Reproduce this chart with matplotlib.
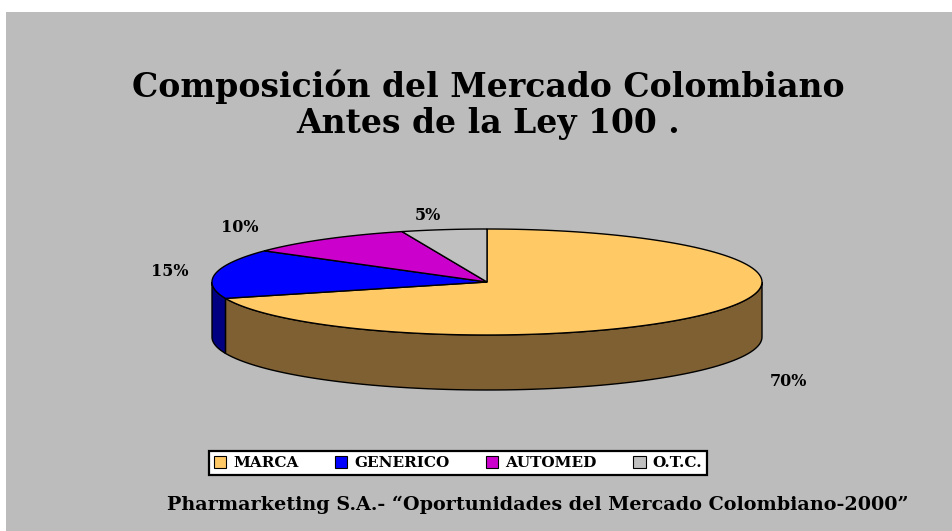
import numpy as np
import matplotlib
matplotlib.use("Agg")
import matplotlib.pyplot as plt
from matplotlib.patches import Polygon, Rectangle, Patch

# ---- data ----
categories = ["MARCA", "GENERICO", "AUTOMED", "O.T.C."]
shares = [70, 15, 10, 5]
label_texts = ["70%", "15%", "10%", "5%"]
top_colors = ["#FFC966", "#0000FF", "#CC00CC", "#C0C0C0"]
side_colors = ["#7F6032", "#000080", "#660066", "#808080"]

title = "Composición del Mercado Colombiano\nAntes de la Ley 100 ."
source = "Pharmarketing S.A.- \u201cOportunidades del Mercado Colombiano-2000\u201d"

W, H = 952, 531
fig = plt.figure(figsize=(W / 100, H / 100), dpi=100)
fig.patch.set_facecolor("white")
ax = fig.add_axes([0, 0, 1, 1])
ax.set_xlim(0, W)
ax.set_ylim(H, 0)
ax.axis("off")

# grey panel
ax.add_patch(Rectangle((6, 12), W - 6, H - 12, facecolor="#BCBCBC", edgecolor="none", zorder=0))

serif = ["DejaVu Serif"]

ax.text(488, 105, title, ha="center", va="center", fontsize=23.8, fontweight="bold",
        family=serif, linespacing=1.12, zorder=5)

# ---- 3D pie ----
cx, cy, rx, ry, depth = 487, 282, 275, 53, 55
fracs = np.array(shares, dtype=float) / np.sum(shares)
cum = np.concatenate([[0], np.cumsum(fracs)])
starts = 90 - cum[:-1] * 360
ends = 90 - cum[1:] * 360


def pt(t_deg, dy=0.0):
    t = np.radians(t_deg)
    return cx + rx * np.cos(t), cy - ry * np.sin(t) + dy


# sides (front half: angles in (-180, 0) mod 360)
for i in range(len(shares)):
    lo, hi = ends[i], starts[i]
    for k in (-1, 0, 1):
        a = max(lo, -180 + 360 * k)
        b = min(hi, 0 + 360 * k)
        if b > a:
            ts = np.linspace(a, b, 80)
            xs, ys = pt(ts)
            top = np.column_stack([xs, ys])
            bot = np.column_stack([xs, ys + depth])[::-1]
            ax.add_patch(Polygon(np.vstack([top, bot]), closed=True,
                                 facecolor=side_colors[i], edgecolor="black",
                                 linewidth=1.0, zorder=2))

# tops
for i in range(len(shares)):
    ts = np.linspace(starts[i], ends[i], 200)
    xs, ys = pt(ts)
    verts = np.vstack([[cx, cy], np.column_stack([xs, ys])])
    ax.add_patch(Polygon(verts, closed=True, facecolor=top_colors[i],
                         edgecolor="black", linewidth=1.0, zorder=3))

# labels
label_pos = [(788, 381), (170, 272), (240, 228), (428, 215)]
for txt, (lx, ly) in zip(label_texts, label_pos):
    ax.text(lx, ly, txt, ha="center", va="center", fontsize=11.5, fontweight="bold",
            family=serif, zorder=5)

# legend
handles = [Patch(facecolor=c, edgecolor="black", linewidth=0.8) for c in top_colors]
leg = fig.legend(handles, categories, ncol=4, loc="center",
                 bbox_to_anchor=(458 / W, 1 - 463 / H),
                 prop={"family": serif, "weight": "bold", "size": 11},
                 frameon=True, fancybox=False, edgecolor="black",
                 handlelength=0.8, handleheight=0.8, handletextpad=0.45,
                 columnspacing=2.4, borderpad=0.3)
leg.get_frame().set_linewidth(1.6)
leg.get_frame().set_facecolor("white")
leg.get_frame().set_alpha(1)

ax.text(538, 505, source, ha="center", va="center", fontsize=13.8, fontweight="bold",
        family=serif, zorder=5)

fig.savefig("out.png", dpi=100, facecolor=fig.get_facecolor())
